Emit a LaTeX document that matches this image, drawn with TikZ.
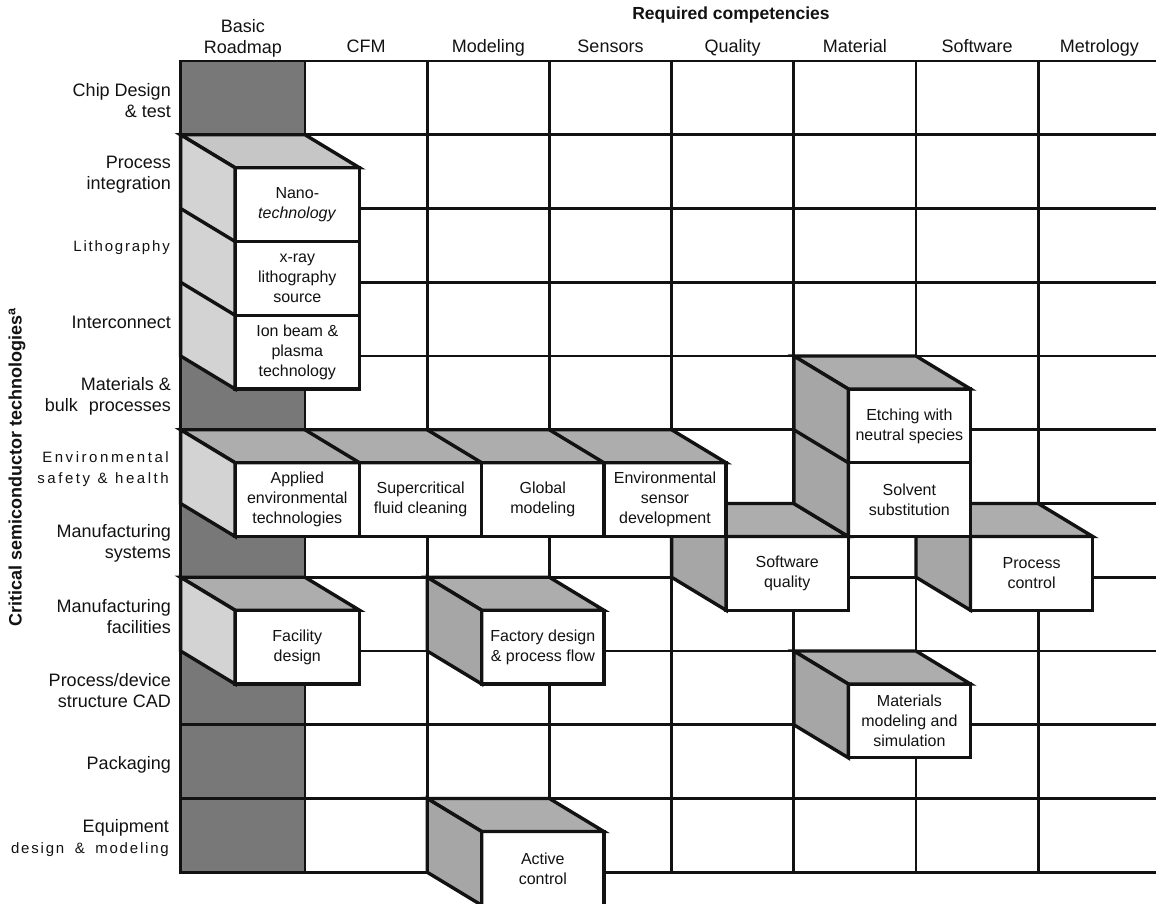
\documentclass[tikz,border=0pt]{standalone}
\usepackage{fontspec}
\setmainfont{Liberation Sans}
\usetikzlibrary{positioning}
\definecolor{ink}{HTML}{121212}
\definecolor{roadmap}{HTML}{787878}
\definecolor{topgray}{HTML}{ADADAD}
\definecolor{toplight}{HTML}{C6C6C6}
\definecolor{sidelight}{HTML}{D3D3D3}
\definecolor{sidegray}{HTML}{A6A6A6}
\newcommand{\rowfont}{\fontsize{18}{21}\selectfont}
\newcommand{\cellfont}{\fontsize{16}{20}\selectfont}
\newcommand{\spacedfont}{\fontsize{15}{21}\selectfont\addfontfeatures{LetterSpace=12}}
\newcommand{\widefont}{\fontsize{15}{21}\selectfont\addfontfeatures{LetterSpace=17}}
\tikzset{
  gridline/.style={line width=2.9pt, draw=ink, line cap=rect},
  face/.style={line width=3.4pt, draw=ink, line join=miter},
  cell/.style={face, fill=white, rectangle, inner sep=0pt, outer sep=0pt,
               minimum width=122.2pt, minimum height=73.75pt,
               align=center, font=\cellfont, text=ink},
  firstcell/.style={cell, minimum width=124.4pt},
  rowlabel/.style={anchor=east, align=right, inner sep=0pt, font=\rowfont, text=ink},
  colhead/.style={anchor=base, inner sep=0pt, font=\rowfont, text=ink},
}

\begin{document}
\begin{tikzpicture}[x=1pt, y=-1pt]
  \useasboundingbox (0,0) rectangle (1156,904);

  % basic roadmap column and the grid
  \fill[roadmap] (180.6,61) rectangle (305,872.25);
  \foreach \k in {0,...,11}
    \draw[gridline] (180.6,{61+73.75*\k}) -- (1170,{61+73.75*\k});
  \foreach \x in {180.6,305,427.2,549.4,671.6,793.8,916,1038.2}
    \draw[gridline] (\x,61) -- (\x,872.25);

  % headings
  \node[font=\bfseries\fontsize{17.5}{20}\selectfont, anchor=base, inner sep=0pt, text=ink] (req) at (731,20) {Required competencies};
  \node[colhead, anchor=south, align=center] (hd0) at (242.8,57) {Basic\\Roadmap};
  \foreach \t [count=\i] in {CFM,Modeling,Sensors,Quality,Material,Software,Metrology}
    \node[colhead] (hd\i) at ({305+122.2*(\i-0.5)},53) {\t};

  \node[rotate=90, font=\bfseries\fontsize{18}{20}\selectfont, inner sep=0pt, text=ink] (crit) at (17,467) {Critical semiconductor technologies\textsuperscript{a}};

  \node[rowlabel] (r1) at (171,101) {Chip Design\\\& test};
  \node[rowlabel] (r2) at (171,175) {Process\\integration};
  \node[rowlabel, font=\spacedfont] (r3) at (170,248) {Lithography};
  \node[rowlabel] (r4) at (171,322) {Interconnect};
  \node[rowlabel] (r5) at (171,396) {Materials \&\\bulk\hspace{0.6em}processes};
  \node[rowlabel, font=\widefont] (r6) at (169,469) {Environmental\\safety\hspace{0.5em}\&\hspace{0.5em}health};
  \node[rowlabel] (r7) at (171,543) {Manufacturing\\systems};
  \node[rowlabel] (r8) at (171,617) {Manufacturing\\facilities};
  \node[rowlabel] (r9) at (171,691) {Process/device\\structure CAD};
  \node[rowlabel] (r10) at (171,765) {Packaging};
  \node[rowlabel] (r11) at (169,838) {Equipment\\{\spacedfont design\hspace{0.7em}\&\hspace{0.7em}modeling}};

  % basic roadmap stack
  \node[firstcell, anchor=north west] (nano) at (235.1,167.75) {Nano-\\\textit{technology}};
  \node[firstcell, below=0pt of nano] (xray) {x-ray\\lithography\\source};
  \node[firstcell, below=0pt of xray] (ion) {Ion beam \&\\plasma\\technology};
  \filldraw[face, fill=toplight] (nano.north west) -- ++(-54.5,-33) -- ++(124.4,0) -- (nano.north east) -- cycle;
  \filldraw[face, fill=sidelight] (nano.north west) -- ++(-54.5,-33) -- ++(0,221.25) -- (ion.south west) -- cycle;
  \draw[face] (xray.north west) -- ++(-54.5,-33);
  \draw[face] (ion.north west) -- ++(-54.5,-33);

  % quality and software boxes
  \node[cell, anchor=north west] (swq) at (726.1,536.5) {Software\\quality};
  \filldraw[face, fill=topgray] (swq.north west) -- ++(-54.5,-33) -- ++(122.2,0) -- (swq.north east) -- cycle;
  \filldraw[face, fill=sidegray] (swq.north west) -- ++(-54.5,-33) -- ++(0,73.75) -- (swq.south west) -- cycle;

  \node[cell, anchor=north west] (proc) at (970.5,536.5) {Process\\control};
  \filldraw[face, fill=topgray] (proc.north west) -- ++(-54.5,-33) -- ++(122.2,0) -- (proc.north east) -- cycle;
  \filldraw[face, fill=sidegray] (proc.north west) -- ++(-54.5,-33) -- ++(0,73.75) -- (proc.south west) -- cycle;

  % material stack
  \node[cell, anchor=north west] (etch) at (848.3,389) {Etching with\\neutral species};
  \node[cell, below=0pt of etch] (solv) {Solvent\\substitution};
  \filldraw[face, fill=topgray] (etch.north west) -- ++(-54.5,-33) -- ++(122.2,0) -- (etch.north east) -- cycle;
  \filldraw[face, fill=sidegray] (etch.north west) -- ++(-54.5,-33) -- ++(0,147.5) -- (solv.south west) -- cycle;
  \draw[face] (solv.north west) -- ++(-54.5,-33);

  % environmental row
  \node[firstcell, anchor=north west] (appl) at (235.1,462.75) {Applied\\environmental\\technologies};
  \node[cell, right=0pt of appl] (scf) {Supercritical\\fluid cleaning};
  \node[cell, right=0pt of scf] (glob) {Global\\modeling};
  \node[cell, right=0pt of glob] (sens) {Environmental\\sensor\\development};
  \filldraw[face, fill=topgray] (appl.north west) -- ++(-54.5,-33) -- ++(491,0) -- (sens.north east) -- cycle;
  \foreach \n in {scf,glob,sens}
    \draw[face] (\n.north west) -- ++(-54.5,-33);
  \filldraw[face, fill=sidelight] (appl.north west) -- ++(-54.5,-33) -- ++(0,73.75) -- (appl.south west) -- cycle;

  % facilities, CAD and equipment boxes
  \node[firstcell, anchor=north west] (facil) at (235.1,610.25) {Facility\\design};
  \filldraw[face, fill=topgray] (facil.north west) -- ++(-54.5,-33) -- ++(124.4,0) -- (facil.north east) -- cycle;
  \filldraw[face, fill=sidelight] (facil.north west) -- ++(-54.5,-33) -- ++(0,73.75) -- (facil.south west) -- cycle;

  \node[cell, anchor=north west] (fact) at (481.7,610.25) {Factory design\\\& process flow};
  \filldraw[face, fill=topgray] (fact.north west) -- ++(-54.5,-33) -- ++(122.2,0) -- (fact.north east) -- cycle;
  \filldraw[face, fill=sidegray] (fact.north west) -- ++(-54.5,-33) -- ++(0,73.75) -- (fact.south west) -- cycle;

  \node[cell, anchor=north west] (matm) at (848.3,684) {Materials\\modeling and\\simulation};
  \filldraw[face, fill=topgray] (matm.north west) -- ++(-54.5,-33) -- ++(122.2,0) -- (matm.north east) -- cycle;
  \filldraw[face, fill=sidegray] (matm.north west) -- ++(-54.5,-33) -- ++(0,73.75) -- (matm.south west) -- cycle;

  \node[cell, anchor=north west] (actv) at (481.7,831.5) {Active\\control};
  \filldraw[face, fill=topgray] (actv.north west) -- ++(-54.5,-33) -- ++(122.2,0) -- (actv.north east) -- cycle;
  \filldraw[face, fill=sidegray] (actv.north west) -- ++(-54.5,-33) -- ++(0,73.75) -- (actv.south west) -- cycle;
\end{tikzpicture}
\end{document}
